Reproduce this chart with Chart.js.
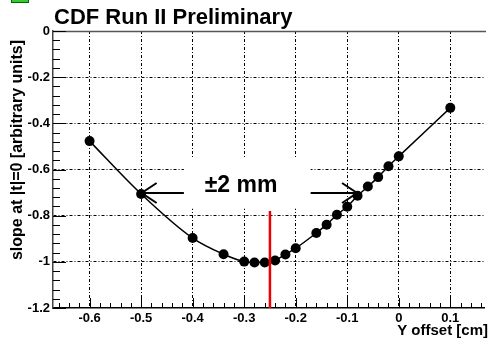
<!DOCTYPE html>
<html>
<head>
<meta charset="utf-8">
<script src="https://cdn.jsdelivr.net/npm/chart.js@4"></script>
<style>
  html, body { margin:0; padding:0; background:#fff; }
  #wrap { position:relative; width:489px; height:341px; }
  #tag { position:absolute; left:11px; top:-3px; width:16px; height:4px; background:#3c3; border:1px solid #060; }
</style>
</head>
<body>
<div id="wrap">
  <canvas id="c" width="489" height="341"></canvas>
  <div id="tag"></div>
</div>
<script>
// measured slope vs. Y offset
var offsets = [-0.6, -0.5, -0.4, -0.34, -0.3, -0.28, -0.26, -0.24, -0.22, -0.2, -0.16, -0.14, -0.12, -0.1, -0.08, -0.06, -0.04, -0.02, 0, 0.1];
var slopes  = [-0.477, -0.706, -0.897, -0.967, -0.999, -1.003, -1.003, -0.994, -0.968, -0.941, -0.875, -0.839, -0.796, -0.761, -0.714, -0.674, -0.633, -0.586, -0.543, -0.333];

var xTicks = [-0.6, -0.5, -0.4, -0.3, -0.2, -0.1, 0, 0.1];
var yTicks = [-1.2, -1, -0.8, -0.6, -0.4, -0.2, 0];

// red marker at the minimum
var markX = [-0.25, -0.25];
var markY = [-0.78, -1.2];

var pts = offsets.map(function(x, i){ return { x:x, y:slopes[i] }; });
var mark = markX.map(function(x, i){ return { x:x, y:markY[i] }; });

var FONT = '"Liberation Sans", Arial, sans-serif';

function fmt(v){ return String(Number(v.toFixed(2))); }

var extras = {
  id:'extras',
  beforeDatasetsDraw: function(chart){
    var c = chart.ctx, xs = chart.scales.x, ys = chart.scales.y, a = chart.chartArea;
    c.save();
    // top frame
    c.strokeStyle = '#555'; c.lineWidth = 1.5;
    c.beginPath(); c.moveTo(a.left, a.top + 0.5); c.lineTo(a.right + 2, a.top + 0.5); c.stroke();
    // minor ticks, pointing inward
    c.strokeStyle = '#000'; c.lineWidth = 1;
    for (var i = 0; i <= 30; i++){
      var v = -1.2 + i * 0.04, py = Math.round(ys.getPixelForValue(v)) + 0.5;
      var len = (i % 5 === 0) ? 13 : 7;
      c.beginPath(); c.moveTo(a.left, py); c.lineTo(a.left + len, py); c.stroke();
    }
    for (var j = 0; j <= 41; j++){
      var vx = -0.66 + j * 0.02, px = Math.round(xs.getPixelForValue(vx)) + 0.5;
      if (px > a.right) break;
      var l2 = (Math.abs(Math.round(vx * 100)) % 10 === 0) ? 10 : 5;
      c.beginPath(); c.moveTo(px, a.bottom); c.lineTo(px, a.bottom - l2); c.stroke();
    }
    // white box behind the label
    var bx1 = xs.getPixelForValue(-0.417), bx2 = xs.getPixelForValue(-0.171);
    var by1 = ys.getPixelForValue(-0.552), by2 = ys.getPixelForValue(-0.770);
    c.fillStyle = '#fff';
    c.fillRect(bx1, by1, bx2 - bx1, by2 - by1);
    c.restore();
  },
  afterDatasetsDraw: function(chart){
    var c = chart.ctx, xs = chart.scales.x, ys = chart.scales.y;
    var ay = Math.round(ys.getPixelForValue(-0.70));
    function arrow(x0, x1){
      var p0 = xs.getPixelForValue(x0), p1 = xs.getPixelForValue(x1);
      var d = p1 > p0 ? -1 : 1;
      c.beginPath(); c.moveTo(p0, ay); c.lineTo(p1, ay);
      c.moveTo(p1 + d * 15, ay - 10); c.lineTo(p1, ay); c.lineTo(p1 + d * 15, ay + 10);
      c.stroke();
    }
    c.save();
    c.strokeStyle = '#000'; c.lineWidth = 2;
    arrow(-0.417, -0.499);
    arrow(-0.171, -0.081);
    c.fillStyle = '#000';
    c.font = 'bold 23px ' + FONT;
    c.textAlign = 'center'; c.textBaseline = 'middle';
    c.fillText('\u00b12 mm', xs.getPixelForValue(-0.306), ys.getPixelForValue(-0.672));
    c.restore();
  },
  afterDraw: function(chart){
    var c = chart.ctx;
    c.save();
    c.fillStyle = '#000';
    c.font = 'bold 22px ' + FONT;
    c.textAlign = 'left'; c.textBaseline = 'middle';
    c.fillText('CDF Run II Preliminary', 54, 18);
    c.font = 'bold 15px ' + FONT;
    c.textAlign = 'right';
    c.fillText('Y offset [cm]', 488, 331);
    c.translate(18, 150);
    c.rotate(-Math.PI / 2);
    c.textAlign = 'center';
    c.font = 'bold 16px ' + FONT;
    c.fillText('slope at |t|=0 [arbitrary units]', 0, 0);
    c.restore();
  }
};

new Chart(document.getElementById('c').getContext('2d'), {
  type:'line',
  data:{
    datasets:[
      { data:mark, borderColor:'#e00', borderWidth:2.5, pointRadius:0, order:0 },
      { data:pts, borderColor:'#000', borderWidth:1.5, backgroundColor:'#000',
        pointRadius:5, pointBorderWidth:0, cubicInterpolationMode:'monotone', order:1 }
    ]
  },
  options:{
    responsive:false,
    devicePixelRatio:1,
    animation:false,
    layout:{ padding:{ top:31, right:1, left:0, bottom:0 } },
    plugins:{ legend:{ display:false }, tooltip:{ enabled:false } },
    scales:{
      x:{
        type:'linear', min:-0.671, max:0.1654,
        afterBuildTicks:function(s){ s.ticks = xTicks.map(function(v){ return { value:v }; }); },
        afterFit:function(s){ s.height = 33; },
        grid:{ color:function(ctx){ return ctx.tick && ctx.tick.value >= -0.65 ? '#000' : 'rgba(0,0,0,0)'; }, lineWidth:1, drawTicks:false },
        border:{ display:true, color:'#000', width:1.5, dash:[3,2,1,2] },
        ticks:{ color:'#000', padding:3, font:{ family:FONT, size:13, weight:'bold' }, maxRotation:0,
          callback:function(v){ return fmt(v); } }
      },
      y:{
        type:'linear', min:-1.2, max:0,
        afterBuildTicks:function(s){ s.ticks = yTicks.map(function(v){ return { value:v }; }); },
        afterFit:function(s){ s.width = 53; },
        grid:{ color:function(ctx){ var v = ctx.tick && ctx.tick.value; return (v > -1.19 && v < -0.01) ? '#000' : 'rgba(0,0,0,0)'; }, lineWidth:1, drawTicks:false },
        border:{ display:true, color:'#444', width:1.5, dash:[3,2,1,2] },
        ticks:{ color:'#000', padding:3, font:{ family:FONT, size:13, weight:'bold' },
          callback:function(v){ return fmt(v); } }
      }
    }
  },
  plugins:[extras]
});
</script>
</body>
</html>
